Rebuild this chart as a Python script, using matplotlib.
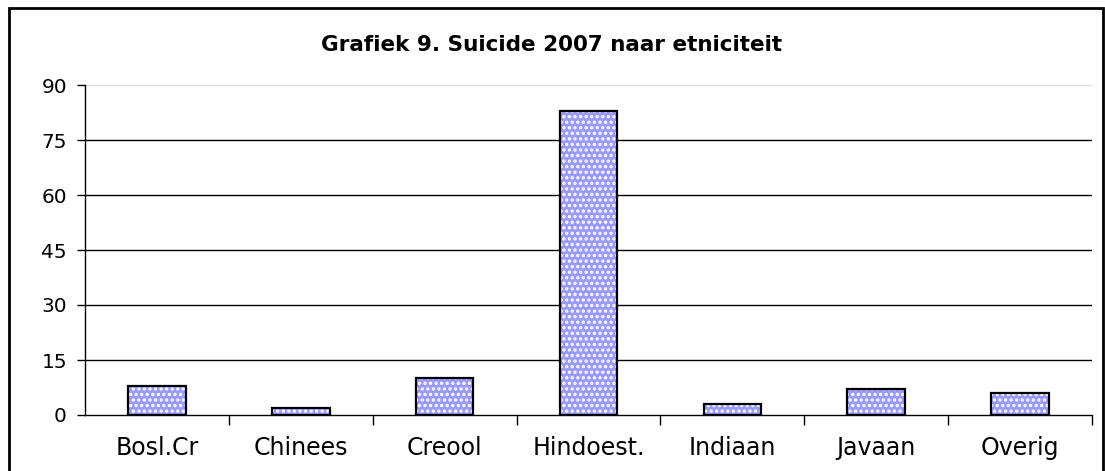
import matplotlib
matplotlib.use("Agg")
import matplotlib.pyplot as plt
from matplotlib.patches import Rectangle

categories = ["Bosl.Cr", "Chinees", "Creool", "Hindoest.", "Indiaan", "Javaan", "Overig"]
values = [8, 2, 10, 83, 3, 7, 6]
yticks = [0, 15, 30, 45, 60, 75, 90]
title = "Grafiek 9. Suicide 2007 naar etniciteit"

plt.rcParams['font.family'] = ['DejaVu Sans']
plt.rcParams['hatch.linewidth'] = 1.6

fig = plt.figure(figsize=(11.05, 4.71), dpi=100)
ax = fig.add_axes([85/1105, 1-415/471, (1092-85)/1105, 330/471])

x = list(range(len(categories)))
ax.bar(x, values, width=0.4, color='#9999FF', edgecolor='white', hatch='...', linewidth=0, zorder=3)
ax.bar(x, values, width=0.4, fill=False, edgecolor='black', linewidth=1.6, zorder=4)

ax.set_xlim(-0.5, len(categories)-0.5)
ax.set_ylim(0, 90)
ax.set_yticks(yticks)
ax.set_yticklabels([str(v) for v in yticks], fontsize=14.5)
ax.set_xticks(x)
ax.set_xticklabels(categories, fontsize=17)
ax.tick_params(axis='x', length=0, pad=15)
ax.set_xticks([i + 0.5 for i in x], minor=True)
ax.tick_params(axis='x', which='minor', length=7, direction='out', width=1)
ax.tick_params(axis='y', length=6, direction='out', width=1, pad=7)

for v in yticks[1:-1]:
    ax.axhline(v, color='black', linewidth=1, zorder=1)
ax.axhline(90, color='#dddddd', linewidth=1, zorder=1)

for s in ['top', 'right']:
    ax.spines[s].set_visible(False)
ax.spines['left'].set_linewidth(1)
ax.spines['bottom'].set_linewidth(1)

fig.text(552/1105, 1-45/471, title, ha='center', va='center', fontsize=15.5, fontweight='bold')

fig.patches.append(Rectangle((9/1105, -0.05), (1103-9)/1105, (471-8)/471 + 0.05, transform=fig.transFigure,
                             fill=False, edgecolor='black', linewidth=2))

fig.savefig("out.png", dpi=100)
